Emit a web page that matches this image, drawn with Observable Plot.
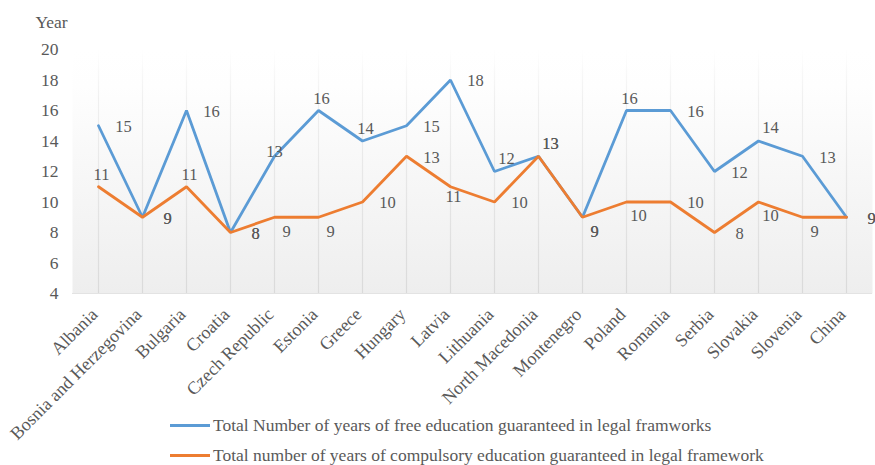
<!DOCTYPE html>
<html>
<head>
<meta charset="utf-8">
<script src="https://cdn.jsdelivr.net/npm/d3@7"></script>
<script src="https://cdn.jsdelivr.net/npm/@observablehq/plot@0.6"></script>
<style>
  html, body { margin: 0; padding: 0; background: #fff; }
  #wrap { position: relative; width: 875px; height: 465px; font-family: "Liberation Serif", "Times New Roman", serif; }
  #wrap svg, #wrap svg text { font-family: "Liberation Serif", "Times New Roman", serif !important; }
  .legend { position: absolute; left: 170px; font-size: 17.5px; color: #595959; display: flex; align-items: center; white-space: nowrap; height: 20px; }
  .legend span.sw { display: inline-block; width: 40px; height: 3px; margin-right: 3px; }
</style>
</head>
<body>
<div id="wrap"></div>
<script>
const countries = ["Albania","Bosnia and Herzegovina","Bulgaria","Croatia","Czech Republic","Estonia","Greece","Hungary","Latvia","Lithuania","North Macedonia","Montenegro","Poland","Romania","Serbia","Slovakia","Slovenia","China"];
const freeYears = [15,9,16,8,13,16,14,15,18,12,13,9,16,16,12,14,13,9];
const compulsoryYears = [11,9,11,8,9,9,10,13,11,10,13,9,10,10,8,10,9,9];
const seriesNames = ["Total Number of years of free education guaranteed in legal framworks","Total number of years of compulsory education guaranteed in legal framework"];
const yTicks = [4,6,8,10,12,14,16,18,20];
// label placement codes (r=right, a=above, ar=above-right, b=below, c=centered on point)
const freeLabelPos = ["r","r","r","r","c","a","a","r","r","ar","ar","b","a","r","r","ar","r","r"];
const compLabelPos = ["a","r","a","r","b","b","r","r","bc","r","ar","b","b","r","r","b","b","r"];

const FONT = "Liberation Serif, Times New Roman, serif";
const colors = ["#5b9bd5", "#ed7d31"];
const offsets = {
  r: [25, 1], a: [3, -12], ar: [12, -13], b: [12, 14], bc: [3, 10], c: [0, -5]
};

const data = [];
countries.forEach((c, i) => {
  data.push({country: c, series: seriesNames[0], value: freeYears[i], pos: freeLabelPos[i]});
});
countries.forEach((c, i) => {
  data.push({country: c, series: seriesNames[1], value: compulsoryYears[i], pos: compLabelPos[i]});
});

const labelMarks = Object.entries(offsets).map(([code, [dx, dy]]) =>
  Plot.text(data.filter(d => d.pos === code), {
    x: "country", y: "value", text: d => String(d.value),
    dx, dy, fill: "#595959", fontSize: 16.5, fontFamily: FONT
  })
);

const plot = Plot.plot({
  width: 875,
  height: 465,
  marginLeft: 72,
  marginRight: 3,
  marginTop: 49,
  marginBottom: 172,
  style: { fontFamily: FONT, fontSize: "16px", color: "#595959", background: "transparent" },
  x: { type: "point", domain: countries, padding: 0.5, label: null },
  y: { domain: [4, 20], ticks: yTicks, label: null },
  color: { domain: seriesNames, range: colors },
  marks: [
    Plot.frame({ fill: "url(#bgGrad)", stroke: null }),
    Plot.ruleX(countries, { stroke: "url(#gridGrad)", strokeWidth: 1.2 }),
    Plot.ruleY([4], { stroke: "#e3e3e3" }),
    Plot.axisY({ ticks: yTicks, tickSize: 0, tickPadding: 14, label: null, fill: "#595959", fontSize: 17.5, fontFamily: FONT }),
    Plot.axisX({ tickSize: 0, tickPadding: 18, dx: -4, tickRotate: -45, label: null, fill: "#595959", fontSize: 18, fontFamily: FONT }),
    Plot.line(data, { x: "country", y: "value", z: "series", stroke: "series", strokeWidth: 2.8, strokeLinejoin: "miter" }),
    ...labelMarks,
    Plot.text(["Year"], { frameAnchor: "top-left", textAnchor: "middle", lineAnchor: "middle", dx: -21, dy: -27, fill: "#595959", fontSize: 17.5, fontFamily: FONT })
  ]
});

// gradient definitions
const ys = plot.scale("y");
const yTop = ys.apply(20), yBot = ys.apply(4);
const ns = "http://www.w3.org/2000/svg";
const defs = document.createElementNS(ns, "defs");
defs.innerHTML = `
  <linearGradient id="bgGrad" x1="0" y1="0" x2="0" y2="1">
    <stop offset="0" stop-color="#ffffff"/>
    <stop offset="0.15" stop-color="#fefefe"/>
    <stop offset="1" stop-color="#eeeeee"/>
  </linearGradient>
  <linearGradient id="gridGrad" gradientUnits="userSpaceOnUse" x1="0" y1="${yTop}" x2="0" y2="${yBot}">
    <stop offset="0" stop-color="#ffffff"/>
    <stop offset="0.2" stop-color="#f0f0f0"/>
    <stop offset="1" stop-color="#dadada"/>
  </linearGradient>`;
plot.insertBefore(defs, plot.firstChild);

const wrap = document.getElementById("wrap");
wrap.appendChild(plot);
plot.style.position = "absolute";
plot.style.left = "0";
plot.style.top = "0";

seriesNames.forEach((name, i) => {
  const div = document.createElement("div");
  div.className = "legend";
  div.style.top = (415 + i * 30) + "px";
  const sw = document.createElement("span");
  sw.className = "sw";
  sw.style.background = colors[i];
  div.appendChild(sw);
  div.appendChild(document.createTextNode(name));
  wrap.appendChild(div);
});
</script>
</body>
</html>
